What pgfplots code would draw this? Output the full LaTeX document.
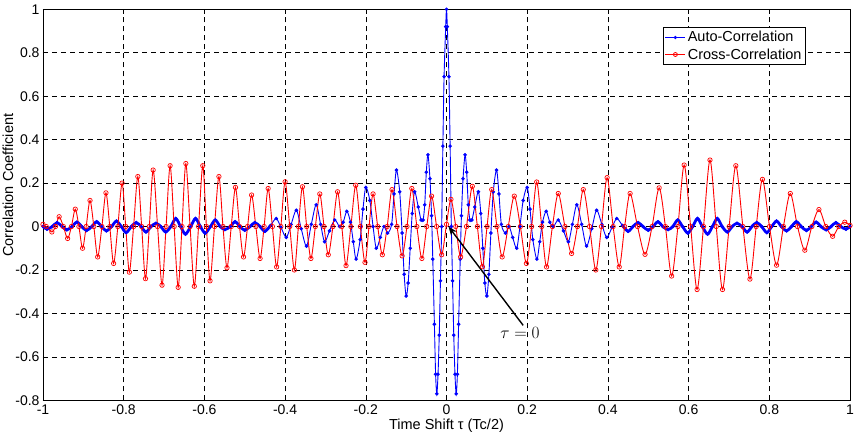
\documentclass[border=0pt]{standalone}
\usepackage{fontspec}
\setmainfont{Liberation Sans}
\usepackage{pgfplots}
\usepackage{pgfplotstable}
\pgfplotsset{compat=1.18}
\usetikzlibrary{arrows.meta}

\pgfplotstableread{
x y
-1.000 0.000
-0.990 -0.012
-0.977 0.000
-0.965 0.018
-0.953 0.000
-0.941 -0.015
-0.928 0.000
-0.916 0.020
-0.904 0.000
-0.892 -0.018
-0.879 0.000
-0.867 0.022
-0.855 0.000
-0.843 -0.020
-0.830 0.000
-0.818 0.025
-0.806 0.000
-0.794 -0.028
-0.781 0.000
-0.769 0.018
-0.757 0.000
-0.745 -0.025
-0.732 0.000
-0.720 0.015
-0.708 0.000
-0.696 -0.025
-0.683 0.000
-0.671 0.037
-0.659 0.000
-0.647 -0.035
-0.634 0.000
-0.622 0.037
-0.610 0.000
-0.598 -0.030
-0.585 0.000
-0.573 0.030
-0.561 0.000
-0.549 -0.014
-0.536 0.000
-0.524 0.022
-0.512 0.000
-0.500 -0.017
-0.487 0.000
-0.475 0.018
-0.462 0.000
-0.450 -0.022
-0.436 0.005
-0.422 0.037
-0.410 -0.005
-0.397 -0.050
-0.385 0.010
-0.372 0.075
-0.360 -0.010
-0.347 -0.090
-0.335 0.010
-0.323 0.100
-0.312 0.010
-0.302 -0.070
-0.290 -0.020
-0.277 0.030
-0.265 0.000
-0.256 0.020
-0.247 0.070
-0.238 0.020
-0.231 -0.070
-0.224 -0.150
-0.214 -0.060
-0.207 0.080
-0.200 0.180
-0.190 0.120
-0.182 0.000
-0.174 -0.100
-0.164 -0.050
-0.155 0.000
-0.146 -0.030
-0.136 0.010
-0.130 0.150
-0.124 0.260
-0.116 0.160
-0.110 -0.030
-0.105 -0.220
-0.100 -0.320
-0.095 -0.260
-0.090 -0.100
-0.085 0.060
-0.079 0.160
-0.070 0.090
-0.063 0.030
-0.058 0.030
-0.054 0.100
-0.050 0.250
-0.046 0.330
-0.041 0.220
-0.037 0.050
-0.034 -0.150
-0.030 -0.450
-0.027 -0.680
-0.024 -0.770
-0.021 -0.680
-0.018 -0.500
-0.015 -0.250
-0.012 0.000
-0.009 0.370
-0.006 0.690
-0.002 0.920
0.000 1.000
0.002 0.920
0.006 0.690
0.009 0.370
0.012 0.000
0.015 -0.250
0.018 -0.500
0.021 -0.680
0.024 -0.770
0.027 -0.680
0.030 -0.450
0.034 -0.150
0.037 0.050
0.041 0.220
0.046 0.330
0.050 0.250
0.054 0.100
0.058 0.030
0.063 0.030
0.070 0.090
0.079 0.160
0.085 0.060
0.090 -0.100
0.095 -0.260
0.100 -0.320
0.105 -0.220
0.110 -0.030
0.116 0.160
0.124 0.260
0.130 0.150
0.136 0.010
0.146 -0.030
0.155 0.000
0.164 -0.050
0.174 -0.100
0.182 0.000
0.190 0.120
0.200 0.180
0.207 0.080
0.214 -0.060
0.224 -0.150
0.231 -0.070
0.238 0.020
0.247 0.070
0.256 0.020
0.265 0.000
0.277 0.030
0.290 -0.020
0.302 -0.070
0.312 0.010
0.323 0.100
0.335 0.010
0.347 -0.090
0.360 -0.010
0.372 0.075
0.385 0.010
0.397 -0.050
0.410 -0.005
0.422 0.037
0.436 0.005
0.450 -0.022
0.462 0.000
0.475 0.018
0.487 0.000
0.500 -0.017
0.512 0.000
0.524 0.022
0.536 0.000
0.549 -0.014
0.561 0.000
0.573 0.030
0.585 0.000
0.598 -0.030
0.610 0.000
0.622 0.037
0.634 0.000
0.647 -0.035
0.659 0.000
0.671 0.037
0.683 0.000
0.696 -0.025
0.708 0.000
0.720 0.015
0.732 0.000
0.745 -0.025
0.757 0.000
0.769 0.018
0.781 0.000
0.794 -0.028
0.806 0.000
0.818 0.025
0.830 0.000
0.843 -0.020
0.855 0.000
0.867 0.022
0.879 0.000
0.892 -0.018
0.904 0.000
0.916 0.020
0.928 0.000
0.941 -0.015
0.953 0.000
0.965 0.018
0.977 0.000
0.990 -0.012
1.000 0.000
}\autodata

\pgfplotstableread{
x y
-1.000 0.010
-0.992 0.000
-0.978 -0.025
-0.969 0.000
-0.960 0.045
-0.9495 0.000
-0.939 -0.055
-0.9295 0.000
-0.920 0.080
-0.911 0.000
-0.902 -0.100
-0.893 0.000
-0.8835 0.120
-0.874 0.000
-0.8645 -0.140
-0.854 0.000
-0.844 0.155
-0.8345 0.000
-0.825 -0.170
-0.8145 0.000
-0.804 0.200
-0.795 0.000
-0.786 -0.210
-0.7755 0.000
-0.765 0.230
-0.7555 0.000
-0.746 -0.240
-0.7365 0.000
-0.727 0.260
-0.716 0.000
-0.705 -0.270
-0.695 0.000
-0.685 0.280
-0.675 0.000
-0.665 -0.280
-0.6555 0.000
-0.646 0.290
-0.6355 0.000
-0.625 -0.275
-0.6145 0.000
-0.604 0.280
-0.595 0.000
-0.586 -0.250
-0.575 0.000
-0.564 0.230
-0.554 0.000
-0.544 -0.190
-0.5335 0.000
-0.523 0.180
-0.513 0.000
-0.503 -0.140
-0.493 0.000
-0.483 0.145
-0.4725 0.000
-0.462 -0.147
-0.452 0.000
-0.442 0.175
-0.4315 0.000
-0.421 -0.186
-0.4105 0.000
-0.400 0.206
-0.3885 0.000
-0.377 -0.200
-0.367 0.000
-0.357 0.183
-0.3465 0.000
-0.336 -0.147
-0.325 0.000
-0.314 0.150
-0.3035 0.000
-0.293 -0.130
-0.2815 0.000
-0.270 0.160
-0.2595 0.000
-0.249 -0.180
-0.237 0.000
-0.225 0.190
-0.2135 0.000
-0.202 -0.165
-0.192 0.000
-0.182 0.150
-0.1705 0.000
-0.159 -0.130
-0.147 0.000
-0.135 0.170
-0.1225 0.000
-0.110 -0.135
-0.098 0.000
-0.086 0.175
-0.0735 0.000
-0.061 -0.147
-0.049 0.000
-0.037 0.140
-0.0245 0.000
-0.012 -0.130
0.000 0.010
0.011 0.125
0.023 0.000
0.035 -0.140
0.0495 0.000
0.064 0.185
0.0765 0.000
0.089 -0.185
0.1005 0.000
0.112 0.170
0.125 0.000
0.138 -0.140
0.153 0.000
0.168 0.140
0.183 0.000
0.198 -0.170
0.211 0.000
0.2235 0.205
0.236 0.000
0.248 -0.186
0.2625 0.000
0.277 0.152
0.2935 0.000
0.310 -0.124
0.3245 0.000
0.339 0.170
0.3545 0.000
0.370 -0.200
0.384 0.000
0.398 0.225
0.413 0.000
0.428 -0.186
0.4415 0.000
0.455 0.152
0.4735 0.000
0.492 -0.128
0.5095 0.000
0.527 0.178
0.5425 0.000
0.558 -0.228
0.5735 0.000
0.589 0.283
0.605 0.000
0.621 -0.290
0.637 0.000
0.653 0.306
0.6685 0.000
0.684 -0.290
0.7005 0.000
0.717 0.280
0.7345 0.000
0.752 -0.242
0.7675 0.000
0.783 0.217
0.8005 0.000
0.818 -0.178
0.835 0.000
0.852 0.152
0.870 0.000
0.888 -0.109
0.9055 0.000
0.923 0.078
0.940 0.000
0.957 -0.045
0.972 0.000
0.987 0.020
1.000 0.005
}\crossdata

\definecolor{autoblue}{RGB}{0,0,255}
\definecolor{crossred}{RGB}{255,0,0}

\begin{document}
\begin{tikzpicture}
\begin{axis}[
  scale only axis, width=807pt, height=391pt,
  xmin=-1, xmax=1, ymin=-0.8, ymax=1,
  xtick={-1,-0.8,-0.6,-0.4,-0.2,0,0.2,0.4,0.6,0.8,1},
  ytick={-0.8,-0.6,-0.4,-0.2,0,0.2,0.4,0.6,0.8,1},
  /pgf/number format/assume math mode=true,
  tick align=inside, major tick length=5pt,
  grid=major,
  major grid style={black, dash pattern=on 5pt off 4pt, line width=0.5pt},
  axis line style={black, line width=0.8pt},
  tick style={black, line width=0.6pt},
  ticklabel style={font=\fontsize{14}{16}\selectfont},
  xticklabel style={yshift=-1pt},
  xlabel={Time Shift τ (Tc/2)},
  ylabel={Correlation Coefficient},
  label style={font=\fontsize{14.5}{17}\selectfont},
  xlabel style={at={(axis description cs:0.5,0)}, anchor=center, yshift=-25pt},
  ylabel style={at={(axis description cs:-0.0434,0.55)}, anchor=center},
  legend style={at={(rel axis cs:0.945,0.954)}, anchor=north east, draw=black, fill=white,
    font=\fontsize{14.5}{17}\selectfont, inner sep=2pt, row sep=1pt, cells={anchor=west}},
  legend image code/.code={\draw[mark repeat=2,mark phase=2,#1] plot coordinates {(0pt,0pt) (10pt,0pt) (20pt,0pt)};},
]
\addlegendimage{autoblue, line width=0.8pt, mark=*, mark size=1.2pt}
\addlegendentry{Auto-Correlation}
\addlegendimage{crossred, line width=0.8pt, mark=o, mark size=2pt}
\addlegendentry{Cross-Correlation}

\addplot[autoblue, line width=2.8pt, smooth, no markers, restrict x to domain=-1:-0.43, forget plot] table {\autodata};
\addplot[autoblue, line width=2.8pt, smooth, no markers, restrict x to domain=0.43:1, forget plot] table {\autodata};
\addplot[autoblue, line width=0.9pt, smooth, mark=*, mark size=1.3pt, forget plot] table {\autodata};
\addplot[crossred, line width=0.9pt, smooth, mark=o, mark size=2.2pt, mark options={line width=0.7pt}, forget plot] table {\crossdata};

\draw[-{Stealth[length=9pt,width=7pt]}, line width=1.4pt, black] (axis cs:0.19,-0.455) -- (axis cs:0.005,0.0);
\node[font=\fontsize{19}{22}\selectfont, inner sep=0pt] at (axis cs:0.182,-0.49) {$\tau = 0$};
\end{axis}
\pgfresetboundingbox
\path[use as bounding box] (-43pt,-34pt) rectangle (813pt,400.3pt);
\end{tikzpicture}
\end{document}
